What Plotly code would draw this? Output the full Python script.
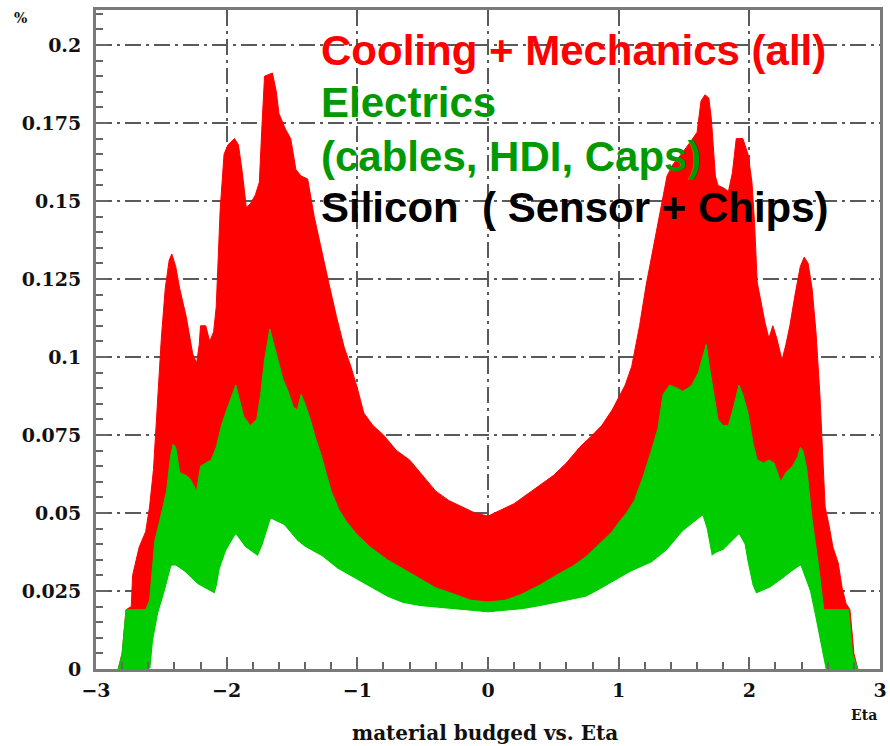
import plotly.graph_objects as go

# ---- data ----
total_eta = [-2.83, -2.80, -2.77, -2.73, -2.72, -2.70, -2.67, -2.62, -2.59, -2.56, -2.53, -2.50, -2.47,
             -2.44, -2.42, -2.39, -2.36, -2.31, -2.26, -2.23, -2.21, -2.20, -2.16, -2.13, -2.10, -2.08,
             -2.05, -2.02, -1.99, -1.94, -1.91, -1.88, -1.85, -1.82, -1.78, -1.75, -1.73, -1.71, -1.65,
             -1.62, -1.60, -1.55, -1.51, -1.47, -1.43, -1.38, -1.33, -1.28, -1.22, -1.16, -1.10, -1.05,
             -1.00, -0.95, -0.88, -0.80, -0.70, -0.60, -0.50, -0.40, -0.30, -0.20, -0.10, 0.00, 0.10,
             0.20, 0.30, 0.40, 0.50, 0.60, 0.70, 0.80, 0.87, 0.95, 1.00, 1.05, 1.10, 1.16, 1.21, 1.26,
             1.31, 1.37, 1.42, 1.48, 1.55, 1.60, 1.63, 1.66, 1.69, 1.71, 1.74, 1.76, 1.81, 1.84, 1.87,
             1.90, 1.95, 1.99, 2.02, 2.04, 2.06, 2.09, 2.12, 2.15, 2.18, 2.21, 2.25, 2.28, 2.31, 2.35,
             2.39, 2.42, 2.45, 2.48, 2.51, 2.54, 2.56, 2.58, 2.61, 2.64, 2.68, 2.71, 2.74, 2.77, 2.79,
             2.80, 2.83]
total_val = [0.0, 0.005, 0.019, 0.020, 0.030, 0.034, 0.039, 0.044, 0.052, 0.064, 0.086, 0.106, 0.122,
             0.131, 0.133, 0.129, 0.122, 0.113, 0.101, 0.098, 0.104, 0.110, 0.110, 0.105, 0.108, 0.116,
             0.147, 0.165, 0.168, 0.170, 0.168, 0.159, 0.148, 0.149, 0.152, 0.156, 0.174, 0.190, 0.191,
             0.185, 0.178, 0.173, 0.170, 0.160, 0.158, 0.157, 0.145, 0.135, 0.124, 0.113, 0.103, 0.097,
             0.090, 0.082, 0.078, 0.075, 0.070, 0.067, 0.062, 0.057, 0.054, 0.052, 0.050, 0.049, 0.051,
             0.053, 0.056, 0.059, 0.062, 0.066, 0.071, 0.075, 0.078, 0.083, 0.087, 0.091, 0.097, 0.110,
             0.123, 0.134, 0.144, 0.158, 0.162, 0.165, 0.169, 0.172, 0.182, 0.184, 0.183, 0.176, 0.158,
             0.155, 0.154, 0.153, 0.159, 0.170, 0.170, 0.165, 0.156, 0.143, 0.124, 0.117, 0.111, 0.106,
             0.110, 0.106, 0.099, 0.104, 0.110, 0.120, 0.129, 0.132, 0.130, 0.122, 0.108, 0.088, 0.070,
             0.052, 0.046, 0.039, 0.034, 0.026, 0.021, 0.019, 0.010, 0.005, 0.0]

elec_eta = [-2.83, -2.80, -2.77, -2.70, -2.62, -2.59, -2.57, -2.55, -2.51, -2.46, -2.43, -2.41, -2.39,
            -2.36, -2.31, -2.28, -2.23, -2.20, -2.16, -2.12, -2.08, -2.04, -2.00, -1.96, -1.93, -1.90,
            -1.87, -1.82, -1.77, -1.74, -1.71, -1.67, -1.64, -1.61, -1.57, -1.53, -1.49, -1.46, -1.43,
            -1.40, -1.36, -1.32, -1.28, -1.24, -1.20, -1.14, -1.08, -1.00, -0.90, -0.77, -0.65, -0.52,
            -0.40, -0.26, -0.13, 0.00, 0.13, 0.26, 0.40, 0.52, 0.65, 0.75, 0.85, 0.95, 1.00, 1.06, 1.12,
            1.19, 1.25, 1.30, 1.34, 1.39, 1.45, 1.49, 1.53, 1.56, 1.61, 1.65, 1.67, 1.69, 1.72, 1.76,
            1.80, 1.84, 1.88, 1.92, 1.95, 1.99, 2.03, 2.06, 2.11, 2.15, 2.19, 2.24, 2.28, 2.33, 2.37,
            2.39, 2.41, 2.44, 2.48, 2.53, 2.57, 2.62, 2.70, 2.76, 2.79, 2.83]
elec_val = [0.0, 0.005, 0.019, 0.019, 0.019, 0.022, 0.033, 0.041, 0.048, 0.057, 0.068, 0.072, 0.071,
            0.063, 0.062, 0.061, 0.057, 0.065, 0.066, 0.067, 0.071, 0.078, 0.083, 0.088, 0.091, 0.086,
            0.081, 0.078, 0.080, 0.088, 0.099, 0.109, 0.104, 0.099, 0.093, 0.089, 0.084, 0.083, 0.088,
            0.085, 0.080, 0.074, 0.069, 0.063, 0.057, 0.051, 0.047, 0.043, 0.039, 0.035, 0.032, 0.029,
            0.026, 0.024, 0.022, 0.0215, 0.022, 0.024, 0.027, 0.030, 0.033, 0.036, 0.040, 0.044, 0.047,
            0.050, 0.054, 0.062, 0.070, 0.077, 0.088, 0.091, 0.090, 0.089, 0.090, 0.091, 0.095, 0.101,
            0.104, 0.098, 0.090, 0.080, 0.078, 0.078, 0.084, 0.091, 0.088, 0.082, 0.072, 0.067, 0.066,
            0.067, 0.066, 0.060, 0.063, 0.065, 0.068, 0.071, 0.070, 0.064, 0.048, 0.033, 0.019, 0.019,
            0.019, 0.019, 0.005, 0.0]

si_eta = [-2.60, -2.58, -2.56, -2.52, -2.47, -2.42, -2.39, -2.32, -2.22, -2.09, -2.07, -2.05, -2.00,
          -1.93, -1.86, -1.76, -1.72, -1.66, -1.56, -1.46, -1.40, -1.27, -1.15, -1.02, -0.90, -0.77,
          -0.65, -0.52, -0.39, -0.26, -0.13, 0.00, 0.13, 0.26, 0.40, 0.52, 0.65, 0.75, 0.84, 1.00, 1.09,
          1.25, 1.37, 1.49, 1.55, 1.64, 1.67, 1.71, 1.74, 1.80, 1.92, 1.96, 1.98, 2.02, 2.05, 2.16, 2.26,
          2.32, 2.39, 2.43, 2.46, 2.50, 2.56, 2.58]
si_val = [0.0, 0.0, 0.009, 0.018, 0.025, 0.033, 0.033, 0.031, 0.027, 0.024, 0.027, 0.032, 0.038,
          0.043, 0.039, 0.036, 0.040, 0.048, 0.046, 0.041, 0.039, 0.036, 0.032, 0.029, 0.026, 0.023,
          0.021, 0.020, 0.0195, 0.019, 0.0183, 0.018, 0.0185, 0.019, 0.020, 0.021, 0.022, 0.023, 0.025,
          0.029, 0.031, 0.034, 0.038, 0.044, 0.046, 0.049, 0.045, 0.036, 0.037, 0.038, 0.043, 0.040,
          0.035, 0.027, 0.024, 0.026, 0.029, 0.031, 0.033, 0.028, 0.025, 0.017, 0.005, 0.0]

legend_lines = ["Cooling + Mechanics (all)", "Electrics", "(cables, HDI, Caps)", "Silicon  ( Sensor + Chips)"]
legend_colors = ["#ff0000", "#009a00", "#009a00", "#000000"]

x_ticks = [-3, -2, -1, 0, 1, 2, 3]
x_ticktext = ["\u22123", "\u22122", "\u22121", "0", "1", "2", "3"]
y_ticks = [0, 0.025, 0.05, 0.075, 0.1, 0.125, 0.15, 0.175, 0.2]
y_ticktext = ["0", "0.025", "0.05", "0.075", "0.1", "0.125", "0.15", "0.175", "0.2"]

# ---- figure ----
W, H = 890, 746
ML, MR, MT, MB = 96, 3, 10, 77
PW, PH = W - ML - MR, H - MT - MB

fig = go.Figure()
fig.add_trace(go.Scatter(x=total_eta, y=total_val, mode="lines", fill="tozeroy",
                         fillcolor="#ff0000", line=dict(color="#ff0000", width=1)))
fig.add_trace(go.Scatter(x=elec_eta, y=elec_val, mode="lines", fill="tozeroy",
                         fillcolor="#00cc00", line=dict(color="#00cc00", width=1)))
fig.add_trace(go.Scatter(x=si_eta, y=si_val, mode="lines", fill="tozeroy",
                         fillcolor="#ffffff", line=dict(color="#ffffff", width=1)))

grid_dash = "16px,5px,3px,5px"
tick_font = dict(family="DejaVu Serif", size=19, color="#111111", weight="bold")

fig.update_xaxes(range=[-3, 3], tickmode="array", tickvals=x_ticks, ticktext=x_ticktext,
                 showgrid=True, gridcolor="#5a5a5a", gridwidth=2, griddash=grid_dash,
                 zeroline=False, showline=True, linecolor="#7a7a7a", linewidth=3, mirror=True,
                 ticks="inside", ticklen=12, tickwidth=2, tickcolor="#666666",
                 tickfont=tick_font, ticklabelstandoff=2, ticklabeloverflow="allow",
                 minor=dict(tickmode="linear", tick0=0, dtick=0.2, ticks="inside", ticklen=7,
                            tickwidth=2, tickcolor="#666666", showgrid=False))
fig.update_yaxes(range=[0, 0.2112], tickmode="array", tickvals=y_ticks, ticktext=y_ticktext,
                 showgrid=True, gridcolor="#5a5a5a", gridwidth=2, griddash=grid_dash,
                 zeroline=False, showline=True, linecolor="#7a7a7a", linewidth=3, mirror=True,
                 ticks="inside", ticklen=12, tickwidth=2, tickcolor="#666666",
                 tickfont=tick_font, ticklabelstandoff=8, ticklabeloverflow="allow",
                 minor=dict(tickmode="linear", tick0=0, dtick=0.005, ticks="inside", ticklen=7,
                            tickwidth=2, tickcolor="#666666", showgrid=False))


def px_to_paper(px, py):
    return (px - ML) / PW, (H - MB - py) / PH


annotations = []
line_y = [50, 103, 157, 207]
for txt, col, py in zip(legend_lines, legend_colors, line_y):
    xp, yp = px_to_paper(321, py)
    annotations.append(dict(x=xp, y=yp, xref="paper", yref="paper", text=txt, showarrow=False,
                            xanchor="left", yanchor="middle",
                            font=dict(family="Liberation Sans", size=42, color=col, weight="bold")))

xp, yp = px_to_paper(488, 733)
annotations.append(dict(x=xp, y=yp, xref="paper", yref="paper", text="material budged vs. Eta",
                        showarrow=False, xanchor="center", yanchor="middle",
                        font=dict(family="DejaVu Serif", size=20, color="#111111", weight="bold")))
xp, yp = px_to_paper(871, 715)
annotations.append(dict(x=xp, y=yp, xref="paper", yref="paper", text="Eta",
                        showarrow=False, xanchor="center", yanchor="middle",
                        font=dict(family="DejaVu Serif", size=14, color="#111111", weight="bold")))
xp, yp = px_to_paper(20, 18)
annotations.append(dict(x=xp, y=yp, xref="paper", yref="paper", text="%",
                        showarrow=False, xanchor="center", yanchor="middle",
                        font=dict(family="DejaVu Serif", size=14, color="#111111", weight="bold")))

fig.update_layout(width=W, height=H, autosize=False,
                  margin=dict(l=ML, r=MR, t=MT, b=MB),
                  paper_bgcolor="white", plot_bgcolor="white",
                  showlegend=False, annotations=annotations)

fig.write_html("out.html")
